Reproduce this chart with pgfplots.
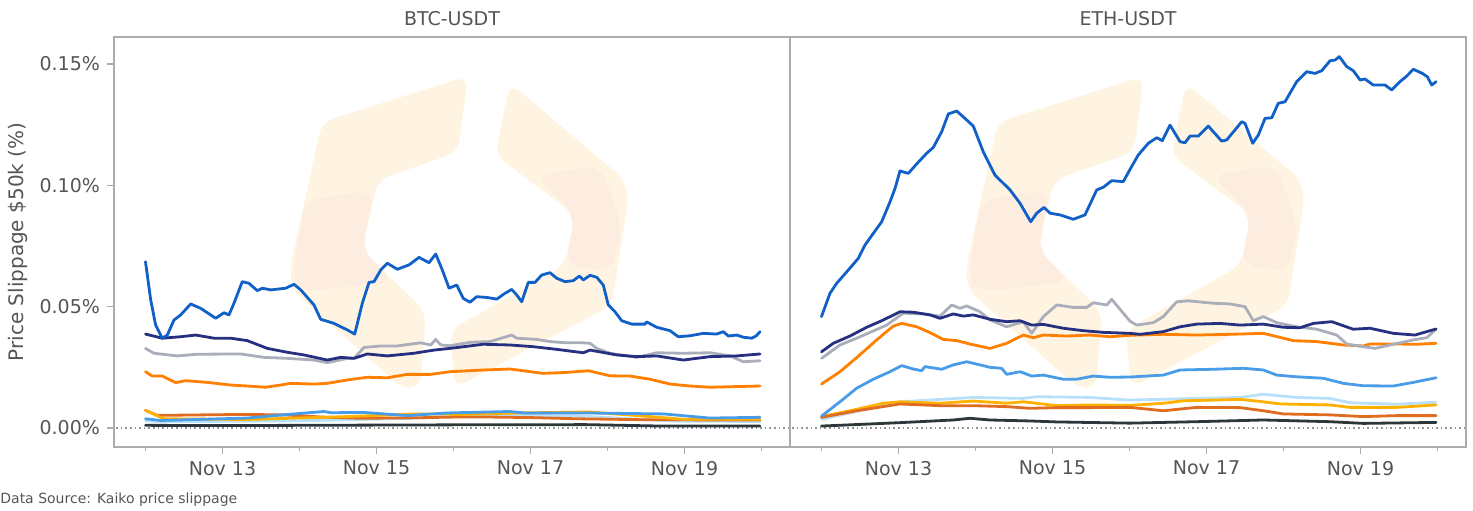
\documentclass[border=0pt]{standalone}
\usepackage{fontspec}
\setmainfont{DejaVu Sans}
\usepackage{pgfplots}
\pgfplotsset{compat=1.18}
\definecolor{cBlue}{RGB}{16,96,200}
\definecolor{cNavy}{RGB}{38,48,128}
\definecolor{cGray}{RGB}{170,174,186}
\definecolor{cOrange}{RGB}{255,128,0}
\definecolor{cMid}{RGB}{72,156,232}
\definecolor{cLight}{RGB}{184,224,250}
\definecolor{cYellow}{RGB}{255,176,0}
\definecolor{cDarkOr}{RGB}{224,108,32}
\definecolor{cBlack}{RGB}{45,55,58}
\definecolor{frame}{RGB}{172,172,172}
\definecolor{labelgray}{RGB}{85,85,85}
\definecolor{wmYellow}{RGB}{255,244,225}
\definecolor{wmPink}{RGB}{253,232,224}
\begin{document}
\begin{tikzpicture}
\useasboundingbox (0pt,0pt) rectangle (736.5pt,255pt);
% faint logo watermark (decoration), pixel coordinates -> pt
\tikzset{px/.style={x=0.5pt,y=-0.5pt,yshift=255pt}}
\begin{scope}[px]
  \foreach \dx in {0,676}{
    \begin{scope}[xshift=\dx*0.5pt]
      \fill[wmYellow, rounded corners=6pt] (322,122) -- (468,76) -- (458,152) -- (378,180) -- (362,250) -- (426,312) -- (420,388) -- (402,388) -- (292,290) -- (290,268) -- cycle;
      \fill[wmPink, opacity=0.6, rounded corners=8pt] (305,200) -- (374,190) -- (362,250) -- (395,282) -- (300,292) -- (292,280) -- cycle;
      \fill[wmYellow, rounded corners=6pt] (510,83) -- (625,180) -- (628,200) -- (612,305) -- (455,388) -- (450,330) -- (565,265) -- (575,215) -- (495,155) -- cycle;
      \fill[wmPink, opacity=0.6, rounded corners=8pt] (535,175) -- (600,165) -- (622,225) -- (612,272) -- (565,265) -- (575,215) -- cycle;
    \end{scope}
  }
\end{scope}
\pgfplotsset{
  panel/.style={
    scale only axis, width=338pt, height=205pt,
    xmin=11.591, xmax=20.37, ymin=-0.00783, ymax=0.1611,
    axis line style={draw=frame, line width=0.75pt},
    tick align=outside,
    major tick length=3.5pt, minor tick length=2pt,
    every tick/.style={draw=frame, line width=0.6pt},
    xtick={13,15,17,19}, xticklabels={Nov 13,Nov 15,Nov 17,Nov 19},
    minor xtick={12,14,16,18,20},
    xtick pos=left, ytick pos=left,
    ticklabel style={font=\fontsize{9.5}{11}\selectfont, text=labelgray},
    title style={font=\fontsize{9.5}{11}\selectfont, text=labelgray, anchor=base, at={(0.5,1)}, yshift=0pt},
    every axis plot/.append style={line width=1.4pt, line join=round, line cap=round},
    clip=true,
  },
  zeroline/.style={draw=gray!85, line width=0.65pt, dash pattern=on 0.8pt off 1.5pt, line cap=butt},
}
% ---------------- BTC ----------------
\begin{axis}[panel, at={(57pt,31.5pt)}, anchor=south west,
  ytick={0,0.05,0.1,0.15}, yticklabels={0.00\%,0.05\%,0.10\%,0.15\%},
  title={BTC-USDT},
  ylabel={Price Slippage \$50k (\%)},
  ylabel style={at={(axis description cs:-0.142,0.5)}, anchor=center, font=\fontsize{10}{12}\selectfont, text=labelgray},
]
\addplot[zeroline] coordinates {(11.5,0) (20.5,0)};
% light blue
\addplot[cLight] coordinates {(12.0,0.0030)(12.2,0.0026)(13.3,0.0028)(14.0,0.0030)(14.8,0.0035)(15.5,0.0040)(16.0,0.0050)(16.8,0.0052)(17.6,0.0050)(18.3,0.0038)(18.9,0.0028)(19.98,0.0027)};
% dark orange
\addplot[cDarkOr] coordinates {(12.0,0.0073)(12.15,0.0052)(13.3,0.0056)(13.8,0.0054)(14.3,0.0045)(14.8,0.0040)(15.5,0.0042)(16.0,0.0045)(16.5,0.0045)(17.0,0.0043)(17.6,0.0038)(18.5,0.0034)(19.98,0.0033)};
% yellow
\addplot[cYellow] coordinates {(12.0,0.0073)(12.24,0.0038)(13.32,0.0035)(14.62,0.0047)(15.49,0.0058)(15.92,0.0058)(16.0,0.0055)(16.82,0.0062)(17.77,0.0066)(18.55,0.0047)(18.98,0.0036)(19.98,0.0036)};
% medium blue
\addplot[cMid] coordinates {(12.0,0.0038)(12.2,0.0031)(13.32,0.0041)(13.97,0.0059)(14.32,0.0068)(14.41,0.0063)(14.84,0.0064)(15.40,0.0051)(15.92,0.0062)(16.73,0.0068)(16.91,0.0062)(17.69,0.0062)(18.73,0.0058)(19.33,0.0041)(19.98,0.0044)};
% black
\addplot[cBlack] coordinates {(12.0,0.0011)(13.0,0.0010)(14.0,0.0011)(15.0,0.0012)(16.0,0.0013)(17.0,0.0013)(17.7,0.0014)(18.7,0.0008)(19.98,0.0008)};
% orange
\addplot[cOrange] coordinates {(12.0,0.0232)(12.088,0.0214)(12.218,0.0214)(12.392,0.0187)(12.522,0.0195)(12.803,0.0188)(13.106,0.0177)(13.322,0.0173)(13.561,0.0168)(13.756,0.0177)(13.886,0.0184)(14.188,0.0181)(14.361,0.0184)(14.621,0.0198)(14.881,0.0209)(15.140,0.0207)(15.400,0.0221)(15.704,0.0221)(15.955,0.0232)(16.387,0.0239)(16.734,0.0243)(17.166,0.0225)(17.470,0.0229)(17.751,0.0236)(18.032,0.0215)(18.292,0.0214)(18.552,0.0201)(18.812,0.0181)(19.071,0.0173)(19.331,0.0168)(19.591,0.0170)(19.981,0.0173)};
% gray
\addplot[cGray] coordinates {(12.0,0.0328)(12.110,0.0308)(12.413,0.0297)(12.673,0.0304)(13.236,0.0305)(13.539,0.0291)(13.842,0.0287)(14.188,0.0280)(14.361,0.0269)(14.621,0.0287)(14.708,0.0287)(14.838,0.0332)(15.055,0.0338)(15.270,0.0338)(15.574,0.0351)(15.704,0.0342)(15.769,0.0365)(15.834,0.0342)(15.955,0.0339)(16.214,0.0353)(16.474,0.0356)(16.756,0.0383)(16.821,0.0370)(17.081,0.0365)(17.253,0.0356)(17.470,0.0351)(17.686,0.0351)(17.773,0.0349)(17.860,0.0328)(18.032,0.0308)(18.379,0.0291)(18.639,0.0310)(18.984,0.0308)(19.331,0.0310)(19.591,0.0297)(19.764,0.0273)(19.981,0.0277)};
% navy
\addplot[cNavy] coordinates {(12.0,0.0387)(12.218,0.0370)(12.457,0.0376)(12.652,0.0383)(12.890,0.0370)(13.106,0.0370)(13.322,0.0360)(13.582,0.0328)(13.842,0.0312)(14.058,0.0301)(14.361,0.0280)(14.535,0.0291)(14.708,0.0287)(14.881,0.0305)(15.140,0.0297)(15.487,0.0308)(15.747,0.0321)(15.955,0.0328)(16.387,0.0345)(16.734,0.0342)(17.036,0.0335)(17.340,0.0324)(17.686,0.0310)(17.773,0.0321)(18.119,0.0301)(18.379,0.0294)(18.639,0.0297)(18.984,0.0280)(19.331,0.0294)(19.678,0.0297)(19.981,0.0305)};
% blue
\addplot[cBlue] coordinates {(12.0,0.0685)(12.068,0.0527)(12.132,0.0424)(12.218,0.0370)(12.283,0.0383)(12.370,0.0445)(12.457,0.0466)(12.587,0.0511)(12.717,0.0493)(12.912,0.0452)(13.019,0.0475)(13.084,0.0466)(13.149,0.0514)(13.257,0.0603)(13.344,0.0596)(13.452,0.0566)(13.517,0.0576)(13.626,0.0569)(13.821,0.0576)(13.929,0.0592)(14.016,0.0569)(14.188,0.0507)(14.275,0.0448)(14.448,0.0431)(14.621,0.0404)(14.717,0.0387)(14.816,0.0514)(14.903,0.0600)(14.968,0.0603)(15.055,0.0651)(15.140,0.0679)(15.270,0.0654)(15.422,0.0672)(15.552,0.0703)(15.682,0.0681)(15.769,0.0717)(15.855,0.0651)(15.942,0.0576)(16.042,0.0589)(16.127,0.0534)(16.214,0.0518)(16.301,0.0541)(16.431,0.0538)(16.561,0.0531)(16.669,0.0555)(16.756,0.0571)(16.821,0.0548)(16.886,0.0520)(16.971,0.0600)(17.058,0.0600)(17.145,0.0630)(17.253,0.0640)(17.340,0.0617)(17.448,0.0603)(17.556,0.0607)(17.634,0.0626)(17.686,0.0610)(17.773,0.0629)(17.860,0.0621)(17.945,0.0589)(18.010,0.0507)(18.097,0.0479)(18.184,0.0442)(18.314,0.0428)(18.487,0.0428)(18.509,0.0437)(18.639,0.0415)(18.812,0.0401)(18.919,0.0376)(19.071,0.0380)(19.244,0.0390)(19.418,0.0387)(19.504,0.0397)(19.569,0.0379)(19.678,0.0383)(19.764,0.0374)(19.873,0.0370)(19.929,0.0379)(19.981,0.0397)};
\end{axis}
% ---------------- ETH ----------------
\begin{axis}[panel, at={(395pt,31.5pt)}, anchor=south west,
  ytick=\empty,
  title={ETH-USDT},
]
\addplot[zeroline] coordinates {(11.5,0) (20.5,0)};
% light blue
\addplot[cLight] coordinates {(12.0,0.0036)(13.019,0.0108)(13.756,0.0122)(13.971,0.0126)(14.621,0.0122)(14.795,0.0129)(15.487,0.0126)(16.006,0.0115)(16.873,0.0122)(17.435,0.0126)(17.738,0.0139)(18.171,0.0126)(18.604,0.0122)(18.864,0.0104)(19.470,0.0098)(19.981,0.0106)};
% yellow
\addplot[cYellow] coordinates {(12.0,0.0047)(12.457,0.0077)(12.803,0.0102)(13.019,0.0108)(13.539,0.0102)(13.971,0.0111)(14.405,0.0102)(14.621,0.0108)(15.055,0.0092)(15.487,0.0095)(16.006,0.0093)(16.439,0.0102)(16.699,0.0112)(17.435,0.0118)(17.738,0.0108)(17.955,0.0099)(18.604,0.0095)(18.864,0.0085)(19.470,0.0085)(19.981,0.0095)};
% dark orange
\addplot[cDarkOr] coordinates {(12.0,0.0044)(12.457,0.0071)(13.019,0.0099)(13.539,0.0092)(13.971,0.0092)(14.405,0.0088)(14.708,0.0081)(15.055,0.0084)(15.487,0.0084)(16.006,0.0085)(16.439,0.0071)(16.873,0.0085)(17.435,0.0084)(17.738,0.0071)(17.997,0.0058)(18.604,0.0054)(19.036,0.0047)(19.470,0.0051)(19.981,0.0051)};
% black
\addplot[cBlack] coordinates {(12.0,0.0008)(13.019,0.0022)(13.712,0.0033)(13.929,0.0040)(14.188,0.0033)(14.708,0.0029)(15.055,0.0025)(16.006,0.0020)(16.873,0.0026)(17.738,0.0033)(18.604,0.0026)(19.036,0.0019)(19.981,0.0023)};
% medium blue
\addplot[cMid] coordinates {(12.0,0.0049)(12.240,0.0108)(12.457,0.0164)(12.673,0.0201)(12.890,0.0232)(13.042,0.0257)(13.192,0.0243)(13.301,0.0236)(13.344,0.0253)(13.561,0.0242)(13.712,0.0260)(13.886,0.0273)(14.058,0.0260)(14.188,0.0250)(14.340,0.0246)(14.405,0.0221)(14.578,0.0232)(14.730,0.0214)(14.881,0.0218)(15.140,0.0201)(15.314,0.0201)(15.530,0.0214)(15.747,0.0209)(16.006,0.0210)(16.439,0.0218)(16.656,0.0239)(17.088,0.0242)(17.478,0.0246)(17.738,0.0239)(17.912,0.0218)(18.171,0.0211)(18.517,0.0205)(18.777,0.0184)(19.036,0.0174)(19.426,0.0173)(19.686,0.0188)(19.981,0.0207)};
% orange
\addplot[cOrange] coordinates {(12.0,0.0181)(12.240,0.0232)(12.457,0.0290)(12.717,0.0363)(12.932,0.0420)(13.042,0.0431)(13.236,0.0417)(13.409,0.0393)(13.582,0.0365)(13.756,0.0360)(13.929,0.0346)(14.188,0.0328)(14.405,0.0349)(14.621,0.0383)(14.751,0.0372)(14.881,0.0383)(15.184,0.0379)(15.487,0.0383)(15.747,0.0376)(16.006,0.0382)(16.439,0.0386)(16.873,0.0383)(17.305,0.0386)(17.738,0.0390)(18.127,0.0360)(18.431,0.0356)(18.777,0.0342)(19.036,0.0338)(19.123,0.0346)(19.470,0.0346)(19.730,0.0345)(19.981,0.0349)};
% gray
\addplot[cGray] coordinates {(12.0,0.0287)(12.240,0.0342)(12.457,0.0370)(12.847,0.0424)(13.062,0.0473)(13.322,0.0470)(13.539,0.0461)(13.691,0.0507)(13.799,0.0493)(13.886,0.0503)(14.058,0.0479)(14.188,0.0445)(14.405,0.0417)(14.621,0.0438)(14.730,0.0390)(14.881,0.0459)(15.055,0.0507)(15.270,0.0497)(15.444,0.0497)(15.530,0.0516)(15.704,0.0507)(15.769,0.0530)(16.006,0.0440)(16.094,0.0424)(16.309,0.0434)(16.439,0.0459)(16.613,0.0520)(16.764,0.0524)(17.088,0.0514)(17.305,0.0511)(17.500,0.0500)(17.608,0.0442)(17.738,0.0459)(17.912,0.0434)(18.171,0.0417)(18.431,0.0407)(18.691,0.0383)(18.821,0.0346)(19.036,0.0335)(19.188,0.0328)(19.426,0.0345)(19.686,0.0363)(19.860,0.0372)(19.981,0.0407)};
% navy
\addplot[cNavy] coordinates {(12.0,0.0314)(12.153,0.0349)(12.370,0.0379)(12.587,0.0415)(12.803,0.0445)(13.019,0.0479)(13.192,0.0477)(13.409,0.0466)(13.539,0.0452)(13.712,0.0470)(13.842,0.0461)(13.971,0.0466)(14.188,0.0448)(14.405,0.0438)(14.578,0.0442)(14.730,0.0424)(14.881,0.0427)(15.140,0.0411)(15.400,0.0401)(15.660,0.0394)(16.006,0.0390)(16.136,0.0386)(16.439,0.0397)(16.656,0.0417)(16.873,0.0428)(17.175,0.0431)(17.435,0.0424)(17.738,0.0428)(17.997,0.0415)(18.214,0.0413)(18.387,0.0431)(18.626,0.0438)(18.906,0.0407)(19.123,0.0411)(19.426,0.0390)(19.708,0.0383)(19.860,0.0397)(19.981,0.0408)};
% blue
\addplot[cBlue] coordinates {(12.0,0.0459)(12.110,0.0555)(12.197,0.0596)(12.348,0.0651)(12.478,0.0699)(12.565,0.0754)(12.673,0.0802)(12.782,0.0850)(12.890,0.0932)(12.955,0.0987)(13.019,0.1059)(13.127,0.1049)(13.236,0.1088)(13.366,0.1132)(13.452,0.1156)(13.561,0.1221)(13.647,0.1294)(13.756,0.1306)(13.886,0.1269)(13.971,0.1244)(14.101,0.1138)(14.253,0.1042)(14.448,0.0981)(14.578,0.0926)(14.717,0.0850)(14.795,0.0885)(14.890,0.0909)(14.968,0.0885)(15.097,0.0878)(15.270,0.0860)(15.422,0.0878)(15.574,0.0981)(15.660,0.0992)(15.769,0.1019)(15.919,0.1015)(16.006,0.1065)(16.114,0.1125)(16.244,0.1173)(16.353,0.1196)(16.426,0.1184)(16.526,0.1248)(16.656,0.1180)(16.721,0.1175)(16.786,0.1203)(16.894,0.1203)(17.023,0.1244)(17.197,0.1182)(17.262,0.1187)(17.370,0.1228)(17.457,0.1262)(17.500,0.1255)(17.600,0.1173)(17.673,0.1207)(17.760,0.1276)(17.847,0.1278)(17.932,0.1338)(18.019,0.1344)(18.171,0.1427)(18.301,0.1468)(18.409,0.1461)(18.496,0.1472)(18.604,0.1513)(18.669,0.1516)(18.725,0.1530)(18.821,0.1489)(18.906,0.1472)(18.994,0.1434)(19.058,0.1438)(19.166,0.1413)(19.318,0.1413)(19.405,0.1393)(19.513,0.1427)(19.600,0.1450)(19.686,0.1478)(19.803,0.1461)(19.868,0.1447)(19.925,0.1413)(19.981,0.1427)};
\end{axis}
\node[anchor=west, inner sep=0pt, font=\fontsize{7}{8}\selectfont, text=labelgray] at (0pt,5pt) {Data Source: Kaiko price slippage};
\end{tikzpicture}
\end{document}
